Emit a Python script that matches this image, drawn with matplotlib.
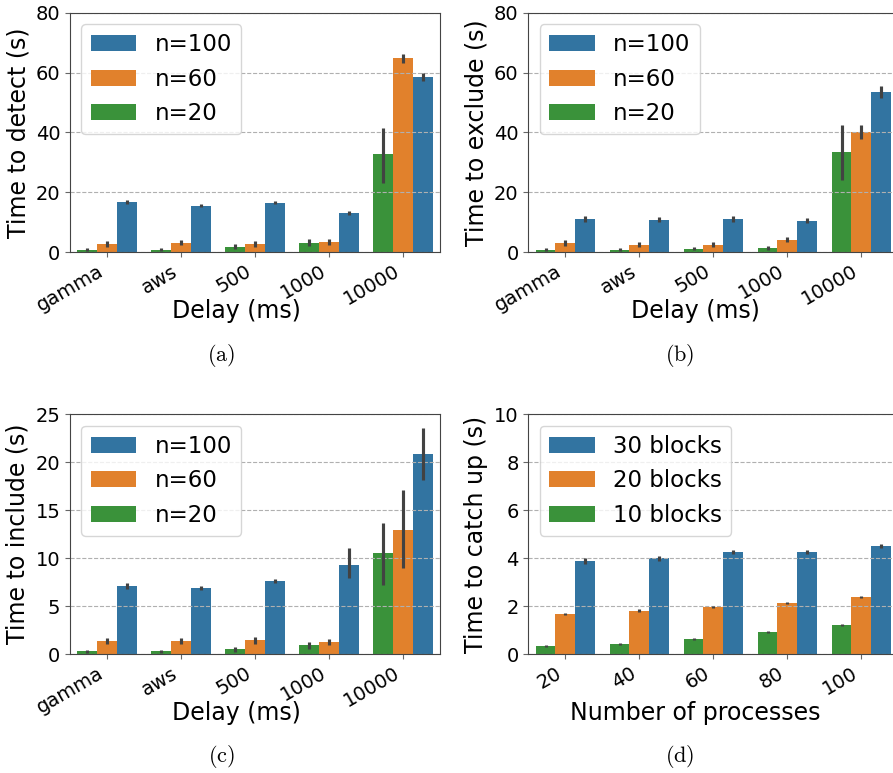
import numpy as np
import matplotlib
matplotlib.use("Agg")
import matplotlib.pyplot as plt

plt.rcParams['mathtext.fontset'] = 'cm'

delays = ["gamma", "aws", "500", "1000", "10000"]
procs = ["20", "40", "60", "80", "100"]
n_labels = ["n=20", "n=60", "n=100"]
blk_labels = ["10 blocks", "20 blocks", "30 blocks"]
colors = ["#3a923a", "#e1812c", "#3274a1"]

# (a) time to detect, rows: n=20, n=60, n=100
detect = [[0.8, 0.8, 1.8, 3.1, 32.8],
          [2.8, 3.1, 2.8, 3.4, 64.8],
          [16.8, 15.5, 16.5, 13.1, 58.5]]
detect_lo = [[0.4, 0.4, 1.0, 2.0, 23.2],
             [1.8, 2.2, 1.8, 2.4, 63.1],
             [16.2, 15.0, 15.9, 12.4, 57.0]]
detect_hi = [[1.2, 1.2, 2.6, 4.3, 41.6],
             [3.8, 4.0, 3.8, 4.4, 66.2],
             [17.4, 16.0, 17.1, 13.8, 60.0]]

# (b) time to exclude
exclude = [[0.8, 0.8, 1.1, 1.4, 33.5],
           [3.1, 2.4, 2.4, 4.1, 40.0],
           [11.1, 10.8, 11.1, 10.5, 53.5]]
exclude_lo = [[0.4, 0.4, 0.6, 0.8, 24.1],
              [2.1, 1.6, 1.6, 3.2, 37.7],
              [9.9, 10.0, 10.1, 9.8, 51.5]]
exclude_hi = [[1.2, 1.2, 1.6, 2.0, 42.5],
              [3.9, 3.2, 3.2, 5.0, 42.5],
              [12.1, 11.6, 12.1, 11.2, 55.5]]

# (c) time to include
include = [[0.31, 0.31, 0.52, 0.94, 10.55],
           [1.36, 1.36, 1.46, 1.25, 12.95],
           [7.1, 6.9, 7.63, 9.3, 20.9]]
include_lo = [[0.15, 0.15, 0.24, 0.56, 7.2],
              [1.01, 1.05, 1.01, 0.94, 8.95],
              [6.82, 6.65, 7.45, 7.9, 18.18]]
include_hi = [[0.45, 0.45, 0.77, 1.29, 13.65],
              [1.64, 1.64, 1.78, 1.57, 17.13],
              [7.38, 7.1, 7.8, 11.04, 23.57]]

# (d) time to catch up
catchup = [[0.33, 0.42, 0.63, 0.92, 1.21],
           [1.67, 1.80, 1.96, 2.13, 2.38],
           [3.89, 4.00, 4.26, 4.26, 4.51]]
catchup_lo = [[0.29, 0.38, 0.59, 0.88, 1.17],
              [1.61, 1.74, 1.91, 2.07, 2.32],
              [3.75, 3.90, 4.17, 4.18, 4.43]]
catchup_hi = [[0.37, 0.46, 0.67, 0.96, 1.25],
              [1.73, 1.86, 2.01, 2.19, 2.44],
              [4.01, 4.10, 4.35, 4.34, 4.59]]


def barplot(ax, cats, vals, lo, hi, labels, ylabel, xlabel, ymax, ystep):
    w = 0.8 / 3
    x = np.arange(len(cats))
    handles = []
    for i in range(3):
        xs = x + (i - 1) * w
        b = ax.bar(xs, vals[i], width=w, color=colors[i], label=labels[i], zorder=2)
        handles.append(b)
        ax.vlines(xs, lo[i], hi[i], color="#424242", lw=2.25, zorder=4)
    ax.set_xlim(-0.5, len(cats) - 0.5)
    ax.set_ylim(0, ymax)
    ax.set_yticks(np.arange(0, ymax + 0.01, ystep))
    ax.set_xticks(x)
    ax.set_xticklabels(cats, rotation=30, ha="right")
    ax.tick_params(labelsize=14, color="#666666")
    ax.set_ylabel(ylabel, fontsize=17)
    ax.set_xlabel(xlabel, fontsize=17, va="center")
    ax.xaxis.set_label_coords(0.451, -0.245)
    ax.yaxis.grid(True, ls="--", color="#b0b0b0", lw=0.8, zorder=3)
    ax.set_axisbelow(False)
    for s in ax.spines.values():
        s.set_color("#444444")
        s.set_zorder(5)
    ax.legend(handles[::-1], labels[::-1], loc="upper left", fontsize=16.5)


fig = plt.figure(figsize=(8.93, 7.73), dpi=100)
W, H = 893.0, 773.0


def add_ax(l, t, r, b):
    return fig.add_axes([l / W, 1 - b / H, (r - l) / W, (b - t) / H])


ax_a = add_ax(70, 12.7, 440, 252)
ax_b = add_ax(528.3, 12.7, 898.3, 252)
ax_c = add_ax(70, 414.3, 440, 654)
ax_d = add_ax(528.3, 414.3, 898.3, 654)

barplot(ax_a, delays, detect, detect_lo, detect_hi, n_labels,
        "Time to detect (s)", "Delay (ms)", 80, 20)
barplot(ax_b, delays, exclude, exclude_lo, exclude_hi, n_labels,
        "Time to exclude (s)", "Delay (ms)", 80, 20)
barplot(ax_c, delays, include, include_lo, include_hi, n_labels,
        "Time to include (s)", "Delay (ms)", 25, 5)
barplot(ax_d, procs, catchup, catchup_lo, catchup_hi, blk_labels,
        "Time to catch up (s)", "Number of processes", 10, 2)

for txt, cx, cy in [("(a)", 221, 356), ("(b)", 680, 356), ("(c)", 221, 757), ("(d)", 680, 757)]:
    fig.text(cx / W, 1 - cy / H, r"$\mathrm{%s}$" % txt, fontsize=16, ha="center", va="center")

fig.savefig("out.png", dpi=100)
